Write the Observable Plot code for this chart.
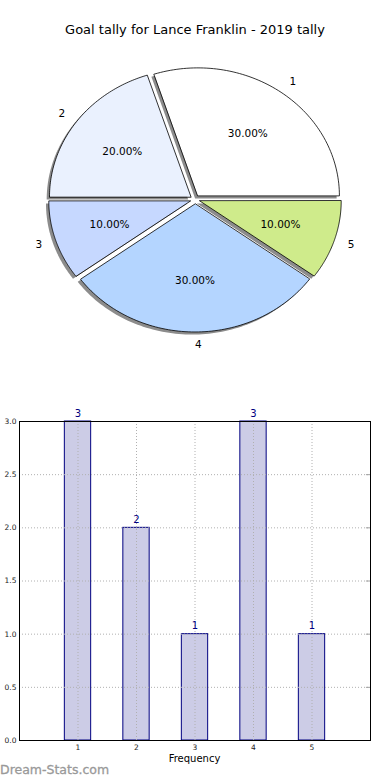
<!DOCTYPE html>
<html><head><meta charset="utf-8">
<script src="https://cdn.jsdelivr.net/npm/d3@7"></script>
<script src="https://cdn.jsdelivr.net/npm/@observablehq/plot@0.6"></script>
<style>
body{margin:0;background:#fff;font-family:"DejaVu Sans",sans-serif}
#wrap{position:relative;width:390px;height:780px;overflow:hidden;background:#fff}
#title{position:absolute;top:22px;left:0;width:390px;text-align:center;font-size:13px;color:#000}
#pie{position:absolute;top:0;left:0}
#bar{position:absolute;top:400px;left:0}
#xlabel{position:absolute;top:753px;left:19px;width:351px;text-align:center;font-size:10px;color:#000}
#wm{position:absolute;top:762px;left:0;font-size:12.5px;font-weight:normal;color:#999;-webkit-text-stroke:0.3px #999}
svg{font-family:"DejaVu Sans",sans-serif}
</style></head><body>
<div id="wrap"><div id="pie"></div><div id="title">Goal tally for Lance Franklin - 2019 tally</div><div id="bar"></div><div id="xlabel">Frequency</div><div id="wm">Dream-Stats.com</div></div>
<script>
const categories = [1, 2, 3, 4, 5];
const tally = [3, 2, 1, 3, 1];
const sliceColors = ["#ffffff", "#eaf1fe", "#c6d8ff", "#b4d5ff", "#cfeb8b"];
const yTicks = [0, 0.5, 1, 1.5, 2, 2.5, 3];
const explode = 0.035;

// ---- pie geometry from the values ----
const total = d3.sum(tally);
let acc = 0;
const slices = categories.map((c, i) => {
  const a0 = acc / total * 2 * Math.PI;
  acc += tally[i];
  const a1 = acc / total * 2 * Math.PI;
  const am = (a0 + a1) / 2;
  const ox = explode * Math.cos(am), oy = explode * Math.sin(am);
  const pts = [{x: ox, y: oy}];
  const n = 80;
  for (let k = 0; k <= n; k++) {
    const t = a0 + (a1 - a0) * k / n;
    pts.push({x: ox + Math.cos(t), y: oy + Math.sin(t)});
  }
  return {
    cat: c, value: tally[i], color: sliceColors[i], pts,
    lx: ox + 1.1 * Math.cos(am), ly: oy + 1.1 * Math.sin(am),
    px: ox + 0.6 * Math.cos(am), py: oy + 0.6 * Math.sin(am),
    pct: d3.format(".2f")(tally[i] / total * 100) + "%"
  };
});

const pieMarks = [];
for (const s of slices) {
  pieMarks.push(Plot.line(s.pts, {x: "x", y: "y", curve: "linear-closed", fill: "#8c8c8c", stroke: "none", dx: -2.8, dy: 2.6}));
  pieMarks.push(Plot.line(s.pts, {x: "x", y: "y", curve: "linear-closed", fill: s.color, stroke: "black", strokeWidth: 0.8}));
}
pieMarks.push(Plot.text(slices, {x: "px", y: "py", text: "pct", fontSize: 10.5, fill: "black"}));
pieMarks.push(Plot.text(slices.filter(s => s.lx > -0.01), {x: "lx", y: "ly", text: d => String(d.cat), textAnchor: "start", fontSize: 10.5, fill: "black"}));
pieMarks.push(Plot.text(slices.filter(s => s.lx <= -0.01), {x: "lx", y: "ly", text: d => String(d.cat), textAnchor: "end", fontSize: 10.5, fill: "black"}));

const pie = Plot.plot({
  width: 390, height: 370,
  marginTop: 0, marginBottom: 0, marginLeft: 0, marginRight: 0,
  x: {domain: [-194.5 / 141.5, 195.5 / 141.5], axis: null},
  y: {domain: [-(370 - 199) / 128, 199 / 128], axis: null},
  marks: pieMarks
});
document.getElementById("pie").append(pie);

// ---- bar chart ----
const bars = categories.map((c, i) => ({cat: c, count: tally[i]}));
const bar = Plot.plot({
  width: 390, height: 380,
  marginTop: 21, marginBottom: 40, marginLeft: 19, marginRight: 20,
  x: {domain: [0, 6]},
  y: {domain: [0, 3]},
  marks: [
    Plot.rectY(bars, {x1: d => d.cat - 0.225, x2: d => d.cat + 0.225, y1: 0, y2: "count", fill: "#000080", fillOpacity: 0.2, stroke: "#000080", strokeWidth: 1}),
    Plot.gridX(categories, {stroke: "#b0b0b0", strokeOpacity: 1, strokeDasharray: "1,2"}),
    Plot.gridY(yTicks.slice(1), {stroke: "#b0b0b0", strokeOpacity: 1, strokeDasharray: "1,2"}),
    Plot.ruleY(yTicks, {x1: 5.93, x2: 6, stroke: "#a0a0a0"}),
    Plot.frame({stroke: "black", strokeWidth: 1}),
    Plot.axisY(yTicks, {tickFormat: d3.format(".1f"), tickSize: 0, tickPadding: 3, fontSize: 7.5, label: null, fill: "#222"}),
    Plot.axisX(categories, {tickFormat: d => String(d), tickSize: 0, tickPadding: 4, fontSize: 7.5, label: null, fill: "#222"}),
    Plot.text(bars, {x: "cat", y: "count", text: d => String(d.count), dy: -8, fill: "#000080", fontSize: 10})
  ]
});
document.getElementById("bar").append(bar);
</script>
</body></html>
